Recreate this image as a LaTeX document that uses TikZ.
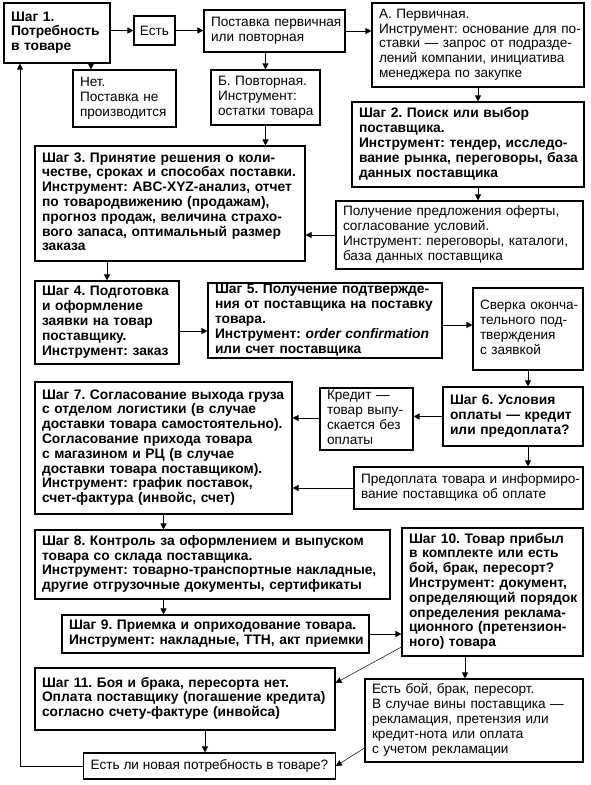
\documentclass[tikz,border=0pt]{standalone}
\usepackage{fontspec}
\setmainfont{Liberation Sans}
\usetikzlibrary{arrows.meta}
\newcommand{\fsz}{\fontsize{13.6}{14.8}\selectfont\frenchspacing}
\newcommand{\fszb}{\fontsize{13.8}{14.8}\selectfont\frenchspacing\bfseries}
\newcommand{\lns}[1]{\begin{tabular}{@{}l@{}}#1\end{tabular}}
\tikzset{
  box/.style={draw, line width=1.1pt, inner xsep=7pt, inner ysep=0pt, align=left, font=\fsz},
  bbox/.style={box, font=\fszb},
  arr/.style={line width=0.8pt, -{Triangle[length=6pt,width=6pt]}},
  tarr/.style={line width=0.5pt, -{Triangle[length=6pt,width=6pt]}},
}
\begin{document}
\begin{tikzpicture}[x=1pt,y=-1pt]
\useasboundingbox (0,0) rectangle (590,785);
% nodes
\node[bbox, minimum width=106pt, minimum height=60pt, text width=92pt] (s1) at (57,33) {\lns{Шаг 1.\\Потребность\\в товаре}};
\node[box, align=center, inner xsep=2pt, minimum width=41pt, minimum height=29pt] (est) at (154.5,30.5) {Есть};
\node[box, minimum width=141pt, minimum height=42pt, text width=127pt] (post) at (274.5,31) {\lns{Поставка первичная\\или повторная}};
\node[box, minimum width=212pt, minimum height=84pt, text width=198pt] (A) at (478,45) {\lns{А. Первичная.\\Инструмент: основание для по-\\ставки — запрос от подразде-\\лений компании, инициатива\\менеджера по закупке}};
\node[box, minimum width=103pt, minimum height=57pt, text width=89pt] (net) at (124.5,98.5) {\lns{Нет.\\Поставка не\\производится}};
\node[box, minimum width=109pt, minimum height=55pt, text width=95pt] (B) at (265.5,97.5) {\lns{Б. Повторная.\\Инструмент:\\остатки товара}};
\node[bbox, minimum width=232pt, minimum height=85pt, text width=218pt] (s2) at (468,144.5) {\lns{Шаг 2. Поиск или выбор\\поставщика.\\Инструмент: тендер, исследо-\\вание рынка, переговоры, база\\данных поставщика}};
\node[bbox, minimum width=270pt, minimum height=115pt, text width=256pt] (s3) at (170,203.5) {\lns{Шаг 3. Принятие решения о коли-\\честве, сроках и способах поставки.\\Инструмент: ABC-XYZ-анализ, отчет\\по товародвижению (продажам),\\прогноз продаж, величина страхо-\\вого запаса, оптимальный размер\\заказа}};
\node[box, minimum width=247pt, minimum height=68pt, text width=233pt] (offer) at (459.5,235) {\lns{Получение предложения оферты,\\согласование условий.\\Инструмент: переговоры, каталоги,\\база данных поставщика}};
\node[bbox, minimum width=144pt, minimum height=83pt, text width=130pt] (s4) at (107,322.5) {\lns{Шаг 4. Подготовка\\и оформление\\заявки на товар\\поставщику.\\Инструмент: заказ}};
\node[bbox, minimum width=234pt, minimum height=75pt, text width=220pt] (s5) at (325,320.5) {\lns{Шаг 5. Получение подтвержде-\\ния от поставщика на поставку\\товара.\\Инструмент: \textit{order confirmation}\\или счет поставщика}};
\node[box, minimum width=110pt, minimum height=82pt, text width=96pt] (sv) at (528,329) {\lns{Сверка оконча-\\тельного под-\\тверждения\\с заявкой}};
\node[box, minimum width=93pt, minimum height=62pt, text width=79pt] (kr) at (366.5,419) {\lns{Кредит —\\товар выпу-\\скается без\\оплаты}};
\node[bbox, minimum width=140pt, minimum height=59pt, text width=126pt] (s6) at (513,416.5) {\lns{Шаг 6. Условия\\оплаты — кредит\\или предоплата?}};
\node[bbox, minimum width=257pt, minimum height=132pt, text width=243pt] (s7) at (163.5,448) {\lns{Шаг 7. Согласование выхода груза\\с отделом логистики (в случае\\доставки товара самостоятельно).\\Согласование прихода товара\\с магазином и РЦ (в случае\\доставки товара поставщиком).\\Инструмент: график поставок,\\счет-фактура (инвойс, счет)}};
\node[box, minimum width=229pt, minimum height=42pt, text width=215pt] (pr) at (468.5,488) {\lns{Предоплата товара и информиро-\\вание поставщика об оплате}};
\node[bbox, minimum width=355pt, minimum height=69pt, text width=341pt] (s8) at (212.5,564.5) {\lns{Шаг 8. Контроль за оформлением и выпуском\\товара со склада поставщика.\\Инструмент: товарно-транспортные накладные,\\другие отгрузочные документы, сертификаты}};
\node[bbox, minimum width=181pt, minimum height=128pt, text width=167pt] (s10) at (492.5,592) {\lns{Шаг 10. Товар прибыл\\в комплекте или есть\\бой, брак, пересорт?\\Инструмент: документ,\\определяющий порядок\\определения реклама-\\ционного (претензион-\\ного) товара}};
\node[bbox, minimum width=307pt, minimum height=38pt, text width=293pt] (s9) at (215.5,634) {\lns{Шаг 9. Приемка и оприходование товара.\\Инструмент: накладные, ТТН, акт приемки}};
\node[bbox, minimum width=300pt, minimum height=62pt, text width=286pt] (s11) at (185,699) {\lns{Шаг 11. Боя и брака, пересорта нет.\\Оплата поставщику (погашение кредита)\\согласно счету-фактуре (инвойса)}};
\node[box, minimum width=218pt, minimum height=83pt, text width=204pt] (boi) at (474,720.5) {\lns{Есть бой, брак, пересорт.\\В случае вины поставщика —\\рекламация, претензия или\\кредит-нота или оплата\\с учетом рекламации}};
\node[box, align=center, minimum width=249pt, minimum height=26pt] (new) at (209.5,766) {Есть ли новая потребность в товаре?};
% connectors
\draw[arr] (s1.east |- est.west) -- (est.west);
\draw[arr] (est.east) -- (est.east -| post.west);
\draw[arr] (post.east) -- (post.east -| A.west);
\draw[arr] (s1.south -| 91,0) -- (net.north -| 91,0);
\draw[arr] (B.north |- post.south) -- (B.north);
\draw[arr] (B.south) -- (B.south |- s3.north);
\draw[arr] (A.south) -- (A.south |- s2.north);
\draw[arr] (s2.south -| A.south) -- (offer.north -| A.south);
\draw[arr] (offer.west) -- (offer.west -| s3.east);
\draw[arr] (s3.south -| s4.north) -- (s4.north);
\draw[arr] (s4.east |- 0,331) -- (s5.west |- 0,331);
\draw[arr] (s5.east |- 0,325) -- (sv.west |- 0,325);
\draw[arr] (sv.south) -- (sv.south |- s6.north);
\draw[arr] (s6.west) -- (s6.west -| kr.east);
\draw[arr] (kr.west |- 0,418) -- (s7.east |- 0,418);
\draw[arr] (s6.south -| sv.south) -- (pr.north -| sv.south);
\draw[arr] (pr.west) -- (pr.west -| s7.east);
\draw[arr] (s7.south) -- (s7.south |- s8.north);
\draw[arr] (s8.south -| s7.south) -- (s9.north -| s7.south);
\draw[arr] (s9.east) -- (s9.east -| s10.west);
\draw[tarr] (s10.west |- 0,647) -- (s11.east |- 0,683);
\draw[arr] (s10.south -| 465,0) -- (boi.north -| 465,0);
\draw[arr] (s11.south -| 205,0) -- (new.north -| 205,0);
\draw[tarr] (boi.west |- 0,748) -- (new.east);
\draw[arr] (new.west) -- (new.west -| 20,0) -- (s1.south -| 20,0);
\end{tikzpicture}
\end{document}
